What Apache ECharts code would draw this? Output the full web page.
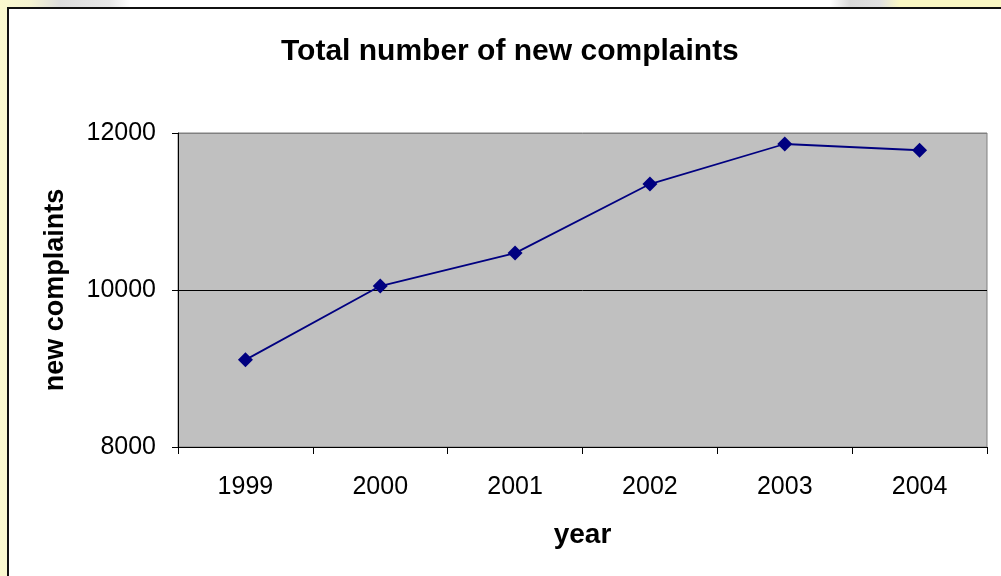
<!DOCTYPE html>
<html>
<head>
<meta charset="utf-8">
<script src="https://cdn.jsdelivr.net/npm/echarts@6/dist/echarts.min.js"></script>
<style>
  html, body { margin: 0; padding: 0; }
  body {
    width: 1001px; height: 576px; overflow: hidden; position: relative;
    background: linear-gradient(90deg, #fbf9cf 0px, #f6f4d2 30px, #dcdcdc 60px, #e8e8e8 110px, #ffffff 130px, #ffffff 830px, #d9d9d9 850px, #e0e0e0 880px, #fbf8c4 900px, #fbf8c4 1001px);
  }
  #frame {
    position: absolute; left: 7px; top: 7px; width: 1100px; height: 700px;
    border: 2px solid #111; background: #fff;
  }
  #chart { position: absolute; left: 0; top: 0; width: 1001px; height: 576px; }
</style>
</head>
<body>
<div id="frame"></div>
<div id="chart"></div>
<script>
var years = ["1999", "2000", "2001", "2002", "2003", "2004"];
var complaints = [9110, 10050, 10470, 11350, 11860, 11780];
var yTicks = { min: 8000, max: 12000, step: 2000 };

var chart = echarts.init(document.getElementById("chart"));
var font = "'Liberation Sans', Arial, sans-serif";

var option = {
  backgroundColor: "transparent",
  animation: false,
  title: {
    text: "Total number of new complaints",
    left: 276,
    top: 32,
    textStyle: {
      fontFamily: font,
      fontSize: 30,
      fontWeight: "bold",
      color: "#000"
    }
  },
  grid: {
    left: 178,
    top: 133,
    width: 809,
    height: 314,
    show: true,
    backgroundColor: "#c0c0c0",
    borderColor: "#808080",
    borderWidth: 1
  },
  xAxis: {
    type: "category",
    data: years,
    boundaryGap: true,
    name: "year",
    nameLocation: "middle",
    nameGap: 74,
    nameTextStyle: {
      fontFamily: font,
      fontSize: 28,
      fontWeight: "bold",
      color: "#000"
    },
    axisLine: { lineStyle: { color: "#000", width: 1 } },
    axisTick: { show: true, length: 7, alignWithLabel: false, lineStyle: { color: "#000" } },
    axisLabel: {
      margin: 28,
      fontFamily: font,
      fontSize: 25,
      color: "#000"
    },
    splitLine: { show: false }
  },
  yAxis: {
    type: "value",
    min: yTicks.min,
    max: yTicks.max,
    interval: yTicks.step,
    name: "new complaints",
    nameLocation: "middle",
    nameRotate: 90,
    nameGap: 109,
    nameTextStyle: {
      fontFamily: font,
      fontSize: 27,
      fontWeight: "bold",
      color: "#000"
    },
    axisLine: { show: true, lineStyle: { color: "#000", width: 1 } },
    axisTick: { show: true, length: 6, lineStyle: { color: "#000" } },
    axisLabel: {
      margin: 22,
      fontFamily: font,
      fontSize: 25,
      color: "#000",
      formatter: function (v) { return String(v); }
    },
    splitLine: {
      show: true,
      lineStyle: { color: ["#000", "#000", "#808080"], width: 1 }
    }
  },
  series: [
    {
      type: "line",
      data: complaints,
      symbol: "diamond",
      symbolSize: 15,
      lineStyle: { color: "#000080", width: 1.8 },
      itemStyle: { color: "#000080" }
    }
  ]
};
chart.setOption(option);
</script>
</body>
</html>
